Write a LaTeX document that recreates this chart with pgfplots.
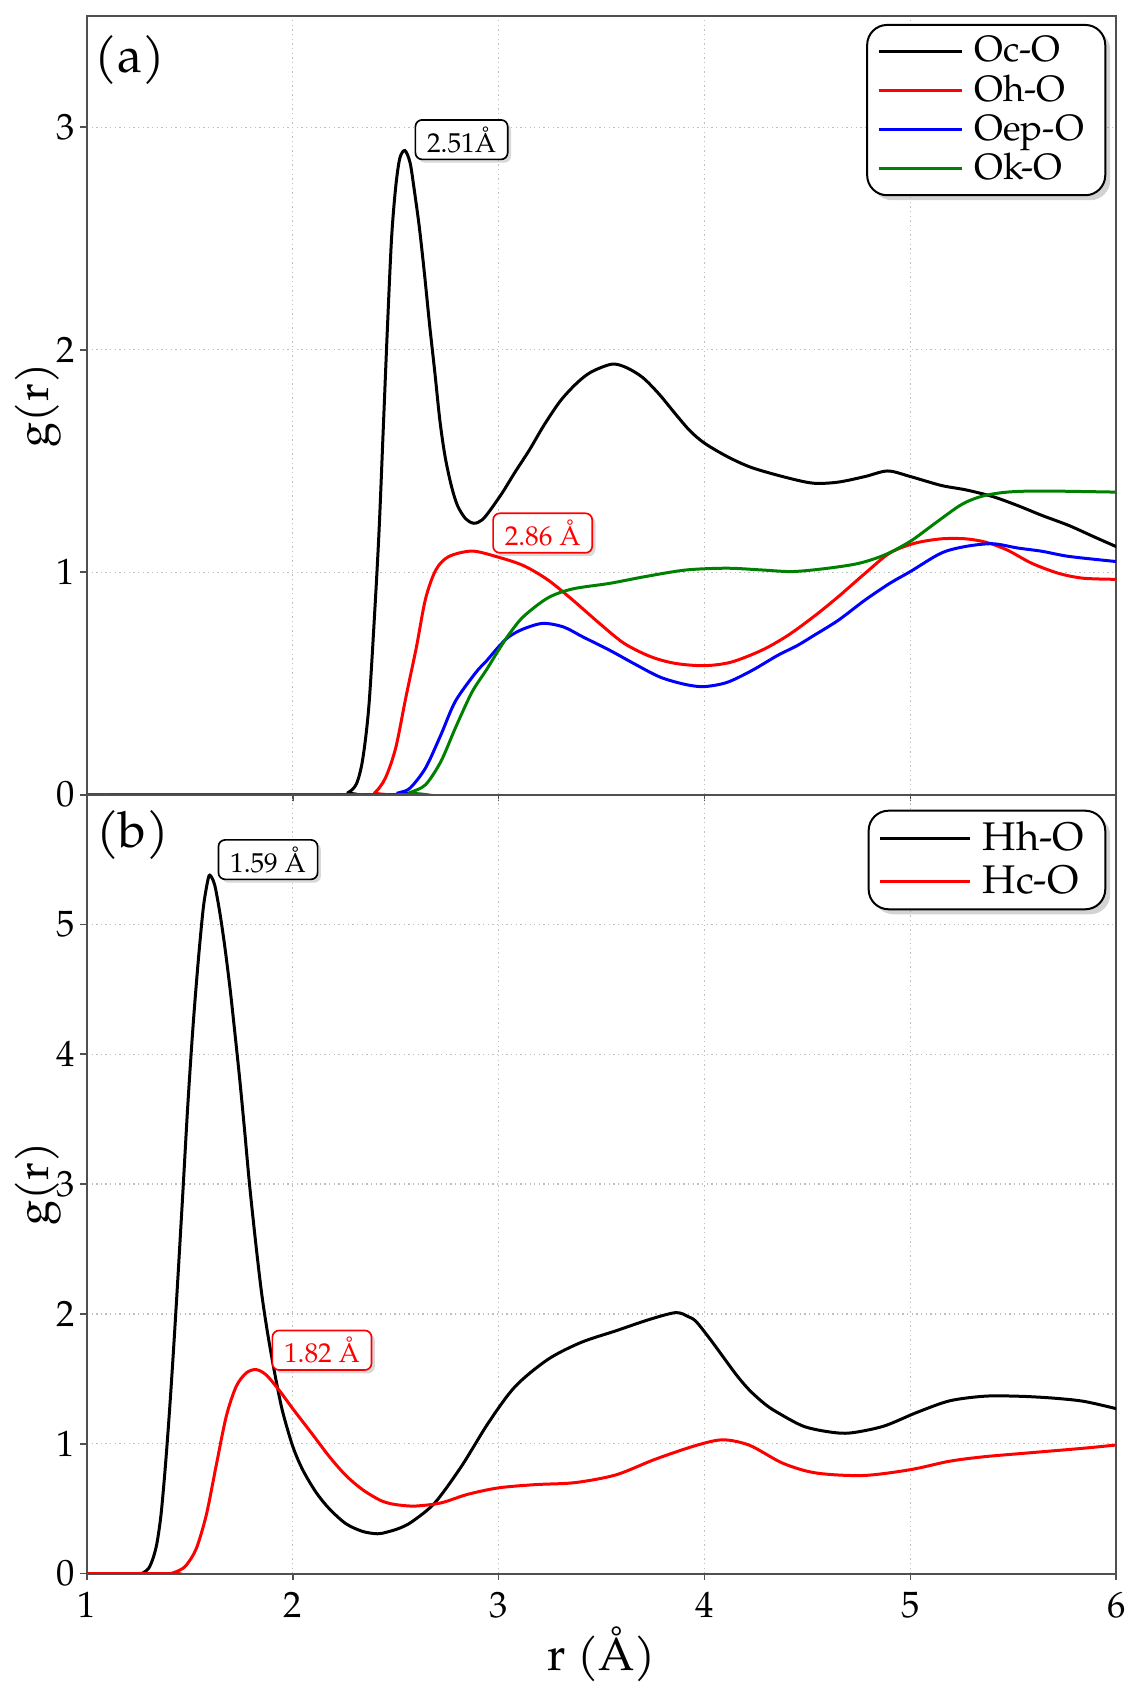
\documentclass[border=0pt]{standalone}
\usepackage{fontspec}
\setmainfont{TeX Gyre Pagella}
\usepackage{pgfplots}
\pgfplotsset{compat=1.18}
\usetikzlibrary{shadows}
\definecolor{mygreen}{RGB}{0,128,0}
\definecolor{axgray}{RGB}{80,80,80}

\tikzset{
  annot/.style={draw=#1, text=#1, fill=white, rounded corners=2pt, line width=0.5pt,
      drop shadow={shadow xshift=1pt, shadow yshift=-1pt, opacity=0.3},
      font=\fontsize{8.2}{10}\selectfont, inner xsep=3.5pt, inner ysep=2pt, minimum height=11.5pt},
}
\newcommand\legline[2]{\begin{scope}[#1]\pgfpathmoveto{\pgfpointorigin}\pgfpathlineto{\pgfpoint{#2}{0pt}}\pgfusepath{stroke}\end{scope}}
\pgfplotsset{
  panel/.style={
    scale only axis, width=309.3pt, height=234pt,
    xmin=1, xmax=6, xtick={1,2,3,4,5,6},
    axis line style={draw=axgray, line width=0.6pt},
    tick style={draw=axgray, line width=0.5pt},
    tick align=outside, major tick length=2pt,
    xtick pos=bottom, ytick pos=left,
    grid=major, major grid style={densely dotted, black!25, line width=0.4pt},
    ticklabel style={font=\fontsize{11}{13}\selectfont},
    yticklabel style={inner sep=1.5pt},
    /pgf/number format/assume math mode=true,
    ylabel={g(r)},
    ylabel style={font=\fontsize{13.5}{16}\selectfont, at={(axis description cs:-0.0475,0.5)}, anchor=center},
    legend style={draw=black, line width=0.6pt, rounded corners=6pt, fill=white,
      drop shadow={shadow xshift=1.5pt, shadow yshift=-1.5pt, opacity=0.35},
      at={(axis description cs:1,1)}, anchor=north east,
      inner xsep=3pt, inner ysep=2pt, nodes={inner ysep=1.2pt, inner xsep=3.4pt}},
    legend cell align=left,
    every axis plot/.append style={line width=0.9pt, smooth, tension=0.5},
  },
}

\begin{document}
\begin{tikzpicture}
% ---------------- panel (a) ----------------
\begin{axis}[panel, at={(0,234pt)}, anchor=south west,
  ymin=0, ymax=3.5, ytick={0,1,2,3}, xticklabels={},
  legend style={xshift=-3pt, yshift=-2.4pt, font=\fontsize{11}{13}\selectfont, row sep=0pt},
  legend image code/.code={\legline{#1}{25pt}}]
\addplot[black] coordinates {
(1.0,0) (2.22,0) (2.27,0.01) (2.31,0.05) (2.34,0.16) (2.37,0.4) (2.40,0.85) (2.42,1.2) (2.44,1.65) (2.46,2.1) (2.48,2.5) (2.50,2.73) (2.52,2.86) (2.545,2.895) (2.57,2.84) (2.59,2.72) (2.615,2.55) (2.64,2.34) (2.665,2.11) (2.69,1.9) (2.715,1.68) (2.74,1.52) (2.77,1.39) (2.80,1.30) (2.84,1.24) (2.88,1.22) (2.92,1.235) (2.96,1.28) (3.02,1.36) (3.08,1.45) (3.15,1.55) (3.22,1.66) (3.30,1.77) (3.38,1.85) (3.45,1.90) (3.55,1.935) (3.62,1.92) (3.70,1.875) (3.78,1.80) (3.86,1.71) (3.93,1.635) (4.00,1.58) (4.11,1.52) (4.23,1.47) (4.40,1.425) (4.53,1.40) (4.65,1.405) (4.78,1.43) (4.89,1.455) (5.00,1.43) (5.15,1.39) (5.27,1.37) (5.40,1.34) (5.52,1.30) (5.64,1.255) (5.77,1.21) (5.89,1.16) (6.0,1.115)};
\addlegendentry{Oc-O}
\addplot[red] coordinates {
(1.0,0) (2.36,0) (2.40,0.01) (2.45,0.075) (2.50,0.21) (2.55,0.44) (2.60,0.66) (2.645,0.88) (2.695,1.01) (2.757,1.07) (2.87,1.095) (2.99,1.07) (3.12,1.03) (3.24,0.965) (3.36,0.875) (3.49,0.77) (3.61,0.68) (3.74,0.62) (3.86,0.59) (4.0,0.58) (4.13,0.596) (4.28,0.65) (4.405,0.716) (4.53,0.80) (4.65,0.89) (4.78,0.995) (4.90,1.086) (5.02,1.13) (5.15,1.15) (5.27,1.15) (5.37,1.134) (5.47,1.10) (5.59,1.04) (5.72,0.995) (5.84,0.973) (6.0,0.968)};
\addlegendentry{Oh-O}
\addplot[blue] coordinates {
(1.0,0) (2.48,0) (2.52,0.01) (2.57,0.03) (2.645,0.12) (2.72,0.27) (2.79,0.42) (2.89,0.55) (2.94,0.60) (3.0,0.665) (3.05,0.71) (3.12,0.745) (3.215,0.77) (3.315,0.754) (3.41,0.709) (3.54,0.649) (3.66,0.588) (3.786,0.528) (3.91,0.495) (4.0,0.486) (4.11,0.505) (4.23,0.558) (4.355,0.626) (4.45,0.67) (4.53,0.715) (4.65,0.784) (4.78,0.875) (4.90,0.95) (5.0,1.003) (5.15,1.086) (5.27,1.116) (5.40,1.128) (5.52,1.109) (5.64,1.094) (5.77,1.071) (6.0,1.048)};
\addlegendentry{Oep-O}
\addplot[mygreen] coordinates {
(1.0,0) (2.53,0) (2.57,0.01) (2.645,0.045) (2.72,0.15) (2.79,0.30) (2.87,0.46) (2.94,0.56) (3.0,0.65) (3.05,0.72) (3.12,0.80) (3.24,0.885) (3.36,0.925) (3.54,0.95) (3.71,0.98) (3.91,1.01) (4.11,1.018) (4.28,1.01) (4.43,1.003) (4.60,1.018) (4.75,1.04) (4.876,1.078) (5.0,1.139) (5.12,1.22) (5.25,1.305) (5.35,1.342) (5.47,1.36) (5.64,1.365) (6.0,1.36)};
\addlegendentry{Ok-O}
\node[font=\fontsize{15}{18}\selectfont] at (axis cs:1.21,3.30) {(a)};
\node[annot=black] at (axis cs:2.82,2.944) {2.51Å};
\node[annot=red] at (axis cs:3.214,1.176) {2.86 Å};
\end{axis}
% ---------------- panel (b) ----------------
\begin{axis}[panel, at={(0,0)}, anchor=south west,
  ymin=0, ymax=6, ytick={0,1,2,3,4,5},
  xlabel={r (Å)},
  xlabel style={font=\fontsize{14}{17}\selectfont, at={(axis description cs:0.5,-0.1038)}, anchor=center},
  legend style={xshift=-3pt, yshift=-4.5pt, font=\fontsize{12}{14}\selectfont, row sep=0.6pt},
  legend image code/.code={\legline{#1}{27pt}}]
\addplot[black] coordinates {
(1.0,0) (1.25,0) (1.273,0.005) (1.30,0.04) (1.32,0.11) (1.34,0.23) (1.36,0.45) (1.38,0.8) (1.40,1.22) (1.42,1.7) (1.44,2.22) (1.465,2.9) (1.49,3.6) (1.515,4.2) (1.54,4.7) (1.565,5.12) (1.585,5.32) (1.597,5.38) (1.62,5.31) (1.645,5.1) (1.67,4.83) (1.696,4.5) (1.72,4.15) (1.743,3.8) (1.767,3.4) (1.79,3.0) (1.82,2.55) (1.848,2.17) (1.875,1.88) (1.90,1.65) (1.925,1.44) (1.952,1.24) (2.0,0.98) (2.048,0.80) (2.113,0.626) (2.178,0.498) (2.259,0.383) (2.34,0.324) (2.412,0.306) (2.46,0.32) (2.52,0.35) (2.58,0.40) (2.69,0.544) (2.82,0.827) (2.95,1.16) (3.08,1.44) (3.24,1.65) (3.40,1.78) (3.57,1.87) (3.73,1.956) (3.86,2.01) (3.92,1.98) (3.96,1.94) (4.03,1.80) (4.09,1.67) (4.16,1.52) (4.22,1.41) (4.29,1.31) (4.35,1.245) (4.48,1.135) (4.61,1.09) (4.71,1.083) (4.87,1.135) (5.03,1.24) (5.19,1.33) (5.36,1.366) (5.52,1.366) (5.68,1.353) (5.84,1.327) (6.0,1.27)};
\addlegendentry{Hh-O}
\addplot[red] coordinates {
(1.0,0) (1.40,0) (1.418,0.005) (1.45,0.025) (1.483,0.064) (1.531,0.19) (1.58,0.45) (1.628,0.83) (1.677,1.21) (1.725,1.44) (1.774,1.545) (1.822,1.571) (1.871,1.53) (1.935,1.41) (2.0,1.27) (2.097,1.07) (2.178,0.90) (2.259,0.754) (2.34,0.645) (2.42,0.568) (2.47,0.54) (2.53,0.525) (2.60,0.52) (2.72,0.544) (2.85,0.61) (3.0,0.66) (3.18,0.685) (3.37,0.70) (3.57,0.76) (3.76,0.88) (3.96,0.987) (4.09,1.03) (4.22,0.987) (4.38,0.85) (4.54,0.775) (4.77,0.755) (5.0,0.80) (5.19,0.865) (5.36,0.90) (5.58,0.93) (5.84,0.965) (6.0,0.99)};
\addlegendentry{Hc-O}
\node[font=\fontsize{15}{18}\selectfont] at (axis cs:1.223,5.69) {(b)};
\node[annot=black] at (axis cs:1.88,5.50) {1.59 Å};
\node[annot=red] at (axis cs:2.142,1.72) {1.82 Å};
\end{axis}
\path (-26.1pt,-34.8pt) rectangle (314.4pt,472.8pt);
\end{tikzpicture}
\end{document}
